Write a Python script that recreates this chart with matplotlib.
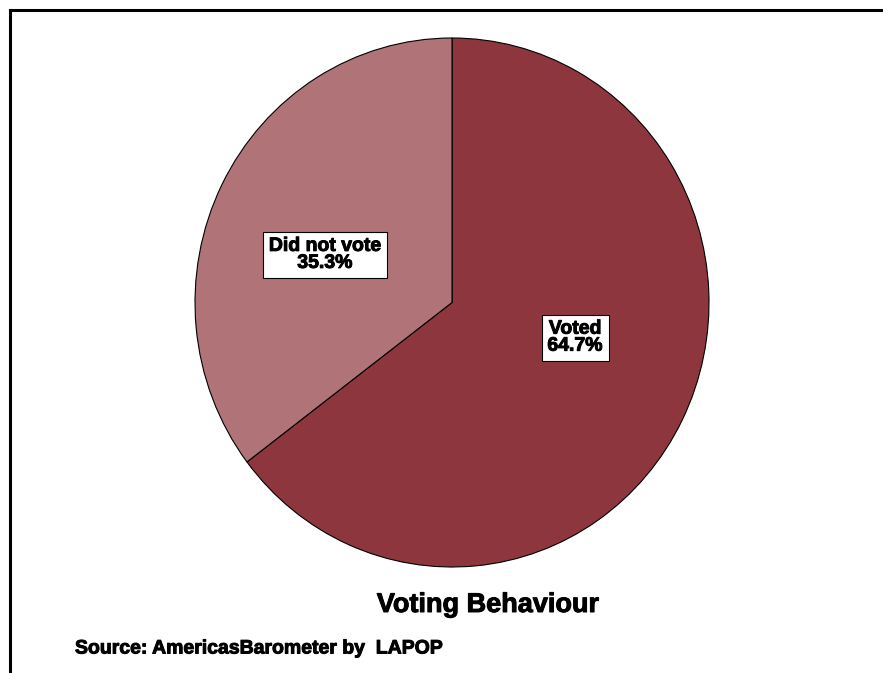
import matplotlib.pyplot as plt
import matplotlib.patheffects as pe
from matplotlib.lines import Line2D

labels = ["Voted", "Did not vote"]
shares = [64.7, 35.3]
colors = ["#8E363E", "#B07478"]
title = "Voting Behaviour"
source = "Source: AmericasBarometer by  LAPOP"

plt.rcParams["font.family"] = ["Liberation Sans", "DejaVu Sans"]

W, H = 883, 673
fig = plt.figure(figsize=(W / 100, H / 100), dpi=100)

# pie axes placed in pixel space (slightly taller than wide, like the original)
left, right, top, bottom = 195, 709, 38, 567
ax = fig.add_axes([left / W, 1 - bottom / H, (right - left) / W, (bottom - top) / H])
ax.pie(shares, colors=colors, startangle=90, counterclock=False,
       wedgeprops=dict(edgecolor="black", linewidth=0.8))
ax.set_aspect("auto")
ax.set_xlim(-1.0, 1.0)
ax.set_ylim(-1.0, 1.0)
ax.axis("off")

heavy = [pe.withStroke(linewidth=0.7, foreground="black")]

box = dict(boxstyle="square,pad=0.3", facecolor="white", edgecolor="black", linewidth=0.8)
label_pos = [(0.479, -0.133), (-0.494, 0.180)]
for lab, val, (x, y) in zip(labels, shares, label_pos):
    ax.text(x, y, f"{lab}\n{val:.1f}%", ha="center", va="center", fontsize=14,
            fontweight="bold", linespacing=1.0, bbox=box, path_effects=heavy)

# frame lines at top and left
fig.add_artist(Line2D([10 / W, 1.0], [1 - 10 / H, 1 - 10 / H], color="black", linewidth=2.2))
fig.add_artist(Line2D([10 / W, 10 / W], [0.0, 1 - 10 / H], color="black", linewidth=2.2))

fig.text(488 / W, 1 - 605 / H, title, ha="center", va="center", fontsize=19.5,
         fontweight="bold", path_effects=heavy)
fig.text(75 / W, 1 - 649 / H, source, ha="left", va="center", fontsize=14,
         fontweight="bold", path_effects=heavy)

fig.savefig("out.png", dpi=100)
